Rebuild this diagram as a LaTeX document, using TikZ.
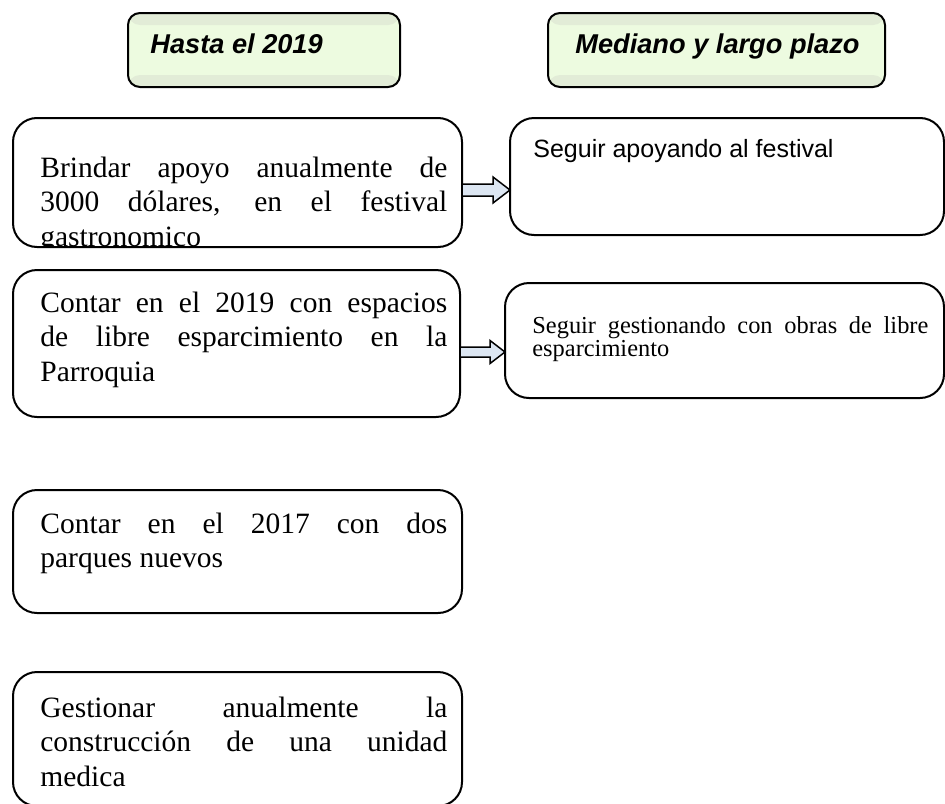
\documentclass[tikz,border=0pt]{standalone}
\usepackage{fontspec}
\setmainfont{Liberation Serif}
\setsansfont{Liberation Sans}
\usetikzlibrary{calc}
\definecolor{headlight}{RGB}{237,251,224}
\definecolor{headband}{RGB}{226,236,215}
\definecolor{arrowfill}{RGB}{220,230,242}
\tikzset{
  headbox/.style={draw,line width=1pt,rounded corners=6pt,fill=headlight,inner sep=0,outer sep=0,minimum height=37pt,
    path picture={\fill[headband] (path picture bounding box.north west) rectangle ([yshift=-6pt]path picture bounding box.north east);
      \fill[headband] (path picture bounding box.south west) rectangle ([yshift=6pt]path picture bounding box.south east);}},
  headtext/.style={font=\fontsize{13.6}{16}\selectfont\sffamily\bfseries\itshape,inner sep=0,anchor=base west},
  plainbox/.style={draw,line width=1pt,rounded corners=12pt,inner sep=0,outer sep=0},
  lefttext/.style={font=\fontsize{14.75}{17.25}\selectfont,text width=203.5pt,align=justify,inner sep=0,anchor=base west},
  righttext/.style={font=\fontsize{12.2}{10}\selectfont,text width=198pt,align=justify,inner sep=0,anchor=base west},
  sanstext/.style={font=\fontsize{12.5}{15}\selectfont\sffamily,inner sep=0,anchor=base west},
  blockarrow/.style={draw,fill=arrowfill,line width=.75pt,line join=miter}
}
\begin{document}
\begin{tikzpicture}[x=.5pt,y=-.5pt]
  \useasboundingbox (0,0) rectangle (945,803);
  \clip (0,0) rectangle (945,803);
  % headers
  \node[headbox,minimum width=136pt] (h1) at (264,50) {};
  \node[headbox,minimum width=168.5pt] (h2) at (716.5,50) {};
  \node[headtext] (h1t) at (150,53) {Hasta el 2019};
  \node[headtext] (h2t) at (575,53) {Mediano y largo plazo};
  % boxes
  \node[plainbox,minimum width=224.5pt,minimum height=64.5pt] (l1) at (237.5,182.5) {};
  \node[plainbox,minimum width=217pt,minimum height=58.5pt] (r1) at (727,176.5) {};
  \node[plainbox,minimum width=223.5pt,minimum height=73.5pt] (l2) at (236.5,343.5) {};
  \node[plainbox,minimum width=219.5pt,minimum height=57.5pt] (r2) at (724.5,340.5) {};
  \node[plainbox,minimum width=224.5pt,minimum height=61.5pt] (l3) at (237.5,551.5) {};
  \node[plainbox,minimum width=224.5pt,minimum height=67pt] (l4) at (237.5,739) {};
  % texts
  \begin{scope}
    \clip (l1.north west) rectangle ([yshift=.5pt]l1.south east);
    \node[lefttext] (l1t) at (40,177) {Brindar apoyo anualmente de\linebreak 3000 dólares, en el festival\linebreak gastronomico};
  \end{scope}
  \node[sanstext] (r1t) at (533,157) {Seguir apoyando al festival};
  \node[lefttext] (l2t) at (40,312) {Contar en el 2019 con espacios\linebreak de libre esparcimiento en la\linebreak Parroquia};
  \node[righttext] (r2t) at (532,333) {Seguir gestionando con obras de libre\linebreak esparcimiento};
  \node[lefttext] (l3t) at (40,533) {Contar en el 2017 con dos\linebreak parques nuevos};
  \node[lefttext] (l4t) at (40,717) {Gestionar anualmente la\linebreak construcción de una unidad\linebreak medica};
  % arrows
  \coordinate (a1t) at (l1.east |- 0,190); \coordinate (a1h) at (r1.west |- 0,190);
  \coordinate (a2t) at (l2.east |- 0,352); \coordinate (a2h) at (r2.west |- 0,352);
  \draw[blockarrow] ($(a1t)+(0,-6)$) -- ($(a1h)+(-17,-6)$) -- ($(a1h)+(-17,-13)$) -- (a1h) -- ($(a1h)+(-17,13)$) -- ($(a1h)+(-17,6)$) -- ($(a1t)+(0,6)$) -- cycle;
  \draw[blockarrow] ($(a2t)+(0,-5)$) -- ($(a2h)+(-15,-5)$) -- ($(a2h)+(-15,-11.5)$) -- (a2h) -- ($(a2h)+(-15,11.5)$) -- ($(a2h)+(-15,5)$) -- ($(a2t)+(0,5)$) -- cycle;
\end{tikzpicture}
\end{document}
